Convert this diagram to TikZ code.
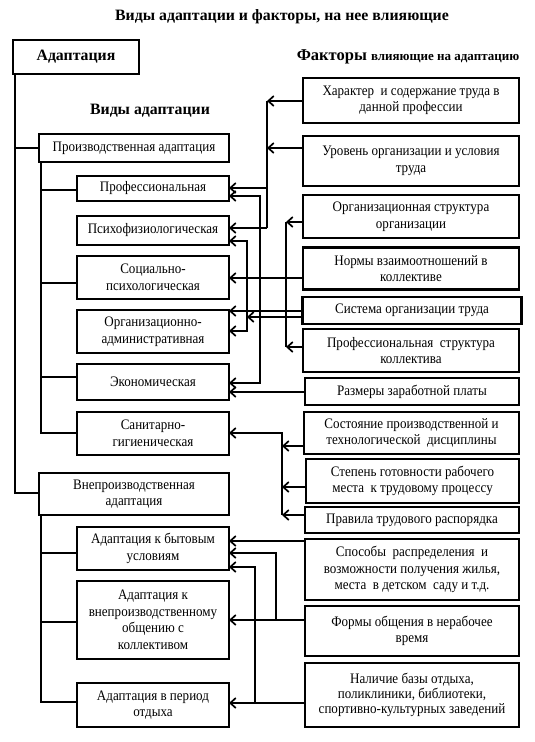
\documentclass[tikz,border=0pt]{standalone}
\usepackage{fontspec}
\setmainfont{Liberation Serif}[FakeStretch=0.9]
\newfontfamily\headf{Liberation Serif}[BoldFont={* Bold}]
\usetikzlibrary{arrows.meta}
\newcommand{\bodyf}{\fontsize{14.5}{16.5}\selectfont}
\tikzset{
  box/.style={draw, line width=2.4pt, inner sep=0pt, outer sep=0pt, align=center, font=\bodyf},
  conn/.style={line width=1.7pt},
  arr/.style={conn, -{Straight Barb[length=5.5pt,width=10pt]}},
  dbl/.style={conn, {Straight Barb[length=5.5pt,width=10pt]}-{Straight Barb[length=5.5pt,width=10pt]}},
  lbox/.style={box, minimum width=152pt},
  rbox/.style={box, minimum width=216pt},
  head/.style={font=\headf\bfseries\fontsize{15.8}{18}\selectfont},
}
\begin{document}
\begin{tikzpicture}[x=1pt,y=-1pt]
\useasboundingbox (0,0) rectangle (535,742);
% headings
\node[head] (title) at (282,17) {Виды адаптации и факторы, на нее влияющие};
\node[head] (vidy) at (150,111) {Виды адаптации};
\node[anchor=base] (fakt) at (408,60) {\headf\bfseries\fontsize{16.5}{18}\selectfont Факторы \fontsize{13}{15}\selectfont влияющие на адаптацию};
% left column
\node[box, head, minimum width=126pt, minimum height=34pt] (adapt) at (76,57) {Адаптация};
\node[box, minimum width=190pt, minimum height=28pt] (proz) at (134,148) {Производственная адаптация};
\node[lbox, minimum height=25pt] (prof) at (153,188.5) {Профессиональная};
\node[lbox, minimum height=29pt] (psy) at (153,230.5) {Психофизиологическая};
\node[lbox, minimum height=43pt] (soc) at (153,277.5) {Социально-\\психологическая};
\node[lbox, minimum height=43pt] (org) at (153,331.5) {Организационно-\\административная};
\node[lbox, minimum height=36pt] (econ) at (153,382) {Экономическая};
\node[lbox, minimum height=43pt] (san) at (153,433.5) {Санитарно-\\гигиеническая};
\node[box, minimum width=190pt, minimum height=42pt] (vne) at (134,494) {Внепроизводственная\\адаптация};
\node[lbox, minimum height=43pt] (byt) at (153,548.5) {Адаптация к бытовым\\условиям};
\node[lbox, minimum height=78pt] (obsh) at (153,620) {Адаптация к\\внепроизводственному\\общению с\\коллективом};
\node[lbox, minimum height=44pt] (otd) at (153,705) {Адаптация в период\\отдыха};
% right column
\node[rbox, minimum height=45pt] (har) at (411,100.5) {Характер~ и содержание труда в\\данной профессии};
\node[rbox, minimum height=50pt] (ur) at (411,161) {Уровень организации и условия\\труда};
\node[rbox, minimum height=43pt] (orgstr) at (411,216.5) {Организационная структура\\организации};
\node[rbox, minimum height=42pt] (norm) at (411,268.5) {Нормы взаимоотношений в\\коллективе};
\node[box, minimum width=219pt, minimum height=27pt] (sys) at (412,310.5) {Система организации труда};
\node[rbox, minimum height=43pt] (profstr) at (411,350.5) {Профессиональная~ структура\\коллектива};
\node[box, minimum width=214pt, minimum height=27pt] (razm) at (412,391.5) {Размеры заработной платы};
\node[box, minimum width=215pt, minimum height=42pt] (sost) at (411.5,433) {Состояние производственной и\\технологической~ дисциплины};
\node[box, minimum width=213pt, minimum height=44pt] (step) at (412.5,481) {Степень готовности рабочего\\места~ к трудовому процессу};
\node[box, minimum width=214pt, minimum height=26pt] (prav) at (412,520) {Правила трудового распорядка};
\node[box, minimum width=214pt, minimum height=61pt] (spos) at (412,569.5) {Способы~ распределения~ и\\возможности получения жилья,\\места~ в детском~ саду и т.д.};
\node[box, minimum width=214pt, minimum height=50pt] (form) at (412,631) {Формы общения в нерабочее\\время};
\node[box, minimum width=214pt, minimum height=64pt, font=\fontsize{14.5}{15}\selectfont] (nal) at (412,695) {Наличие базы отдыха,\\поликлиники, библиотеки,\\спортивно-культурных заведений};
% tree lines (left)
\coordinate (m0) at (15,74);
\coordinate (m1) at (15,148);
\coordinate (m2) at (15,493);
\draw[conn] (m0) -- (m2) -- (m2 -| vne.west);
\draw[conn] (m1) -- (m1 -| proz.west);
\coordinate (p0) at (41,162);
\coordinate (p1) at (41,190);
\coordinate (p2) at (41,283);
\coordinate (p3) at (41,377);
\coordinate (p4) at (41,433);
\draw[conn] (p0) -- (p4) -- (p4 -| san.west);
\draw[conn] (p1) -- (p1 -| prof.west);
\draw[conn] (p2) -- (p2 -| soc.west);
\draw[conn] (p3) -- (p3 -| econ.west);
\coordinate (v0) at (41,515);
\coordinate (v1) at (41,553);
\coordinate (v2) at (41,622);
\coordinate (v3) at (41,702);
\draw[conn] (v0) -- (v3) -- (v3 -| otd.west);
\draw[conn] (v1) -- (v1 -| byt.west);
\draw[conn] (v2) -- (v2 -| obsh.west);
% factor connectors
\coordinate (a1) at (267,101);
\coordinate (a0) at (267,148);
\coordinate (a3) at (267,188);
\coordinate (a2) at (267,228);
\draw[conn] (a1) -- (a2);
\draw[arr] (a1 -| har.west) -- (a1);
\draw[arr] (a0 -| ur.west) -- (a0);
\draw[arr] (a3) -- (a3 -| prof.east);
\draw[arr] (a2) -- (a2 -| psy.east);
\coordinate (b1) at (260,196);
\coordinate (b2) at (260,383);
\draw[dbl] (b1 -| prof.east) -- (b1) -- (b2) -- (b2 -| econ.east);
\coordinate (c1) at (247,241);
\coordinate (c2) at (247,331);
\coordinate (c3) at (247,317);
\draw[dbl] (c1 -| psy.east) -- (c1) -- (c2) -- (c2 -| org.east);
\draw[arr] (c3 -| sys.west) -- (c3);
\coordinate (s1) at (286,311);
\draw[arr] (s1 -| sys.west) -- (s1 -| org.east);
\coordinate (d1) at (286,222);
\coordinate (d2) at (286,347);
\draw[conn] (d1) -- (d2);
\draw[arr] (d1 -| orgstr.west) -- (d1);
\draw[arr] (d2 -| profstr.west) -- (d2);
\coordinate (n1) at (286,278);
\draw[arr] (n1 -| norm.west) -- (n1 -| soc.east);
\coordinate (r1) at (286,392);
\draw[arr] (r1 -| razm.west) -- (r1 -| econ.east);
\coordinate (e1) at (282,433);
\coordinate (e2) at (282,446);
\coordinate (e3) at (282,487);
\coordinate (e4) at (282,515);
\draw[arr] (e4) -- (e1) -- (e1 -| san.east);
\draw[arr] (e2 -| sost.west) -- (e2);
\draw[arr] (e3 -| step.west) -- (e3);
\draw[arr] (e4 -| prav.west) -- (e4);
\coordinate (k1) at (276,541);
\draw[arr] (k1 -| spos.west) -- (k1 -| byt.east);
\coordinate (f1) at (276,553);
\coordinate (f2) at (276,620);
\draw[arr] (f2) -- (f1) -- (f1 -| byt.east);
\draw[arr] (f2 -| form.west) -- (f2 -| obsh.east);
\coordinate (g1) at (255,567);
\coordinate (g2) at (255,703);
\draw[arr] (g2) -- (g1) -- (g1 -| byt.east);
\draw[arr] (g2 -| nal.west) -- (g2 -| otd.east);
\end{tikzpicture}
\end{document}
